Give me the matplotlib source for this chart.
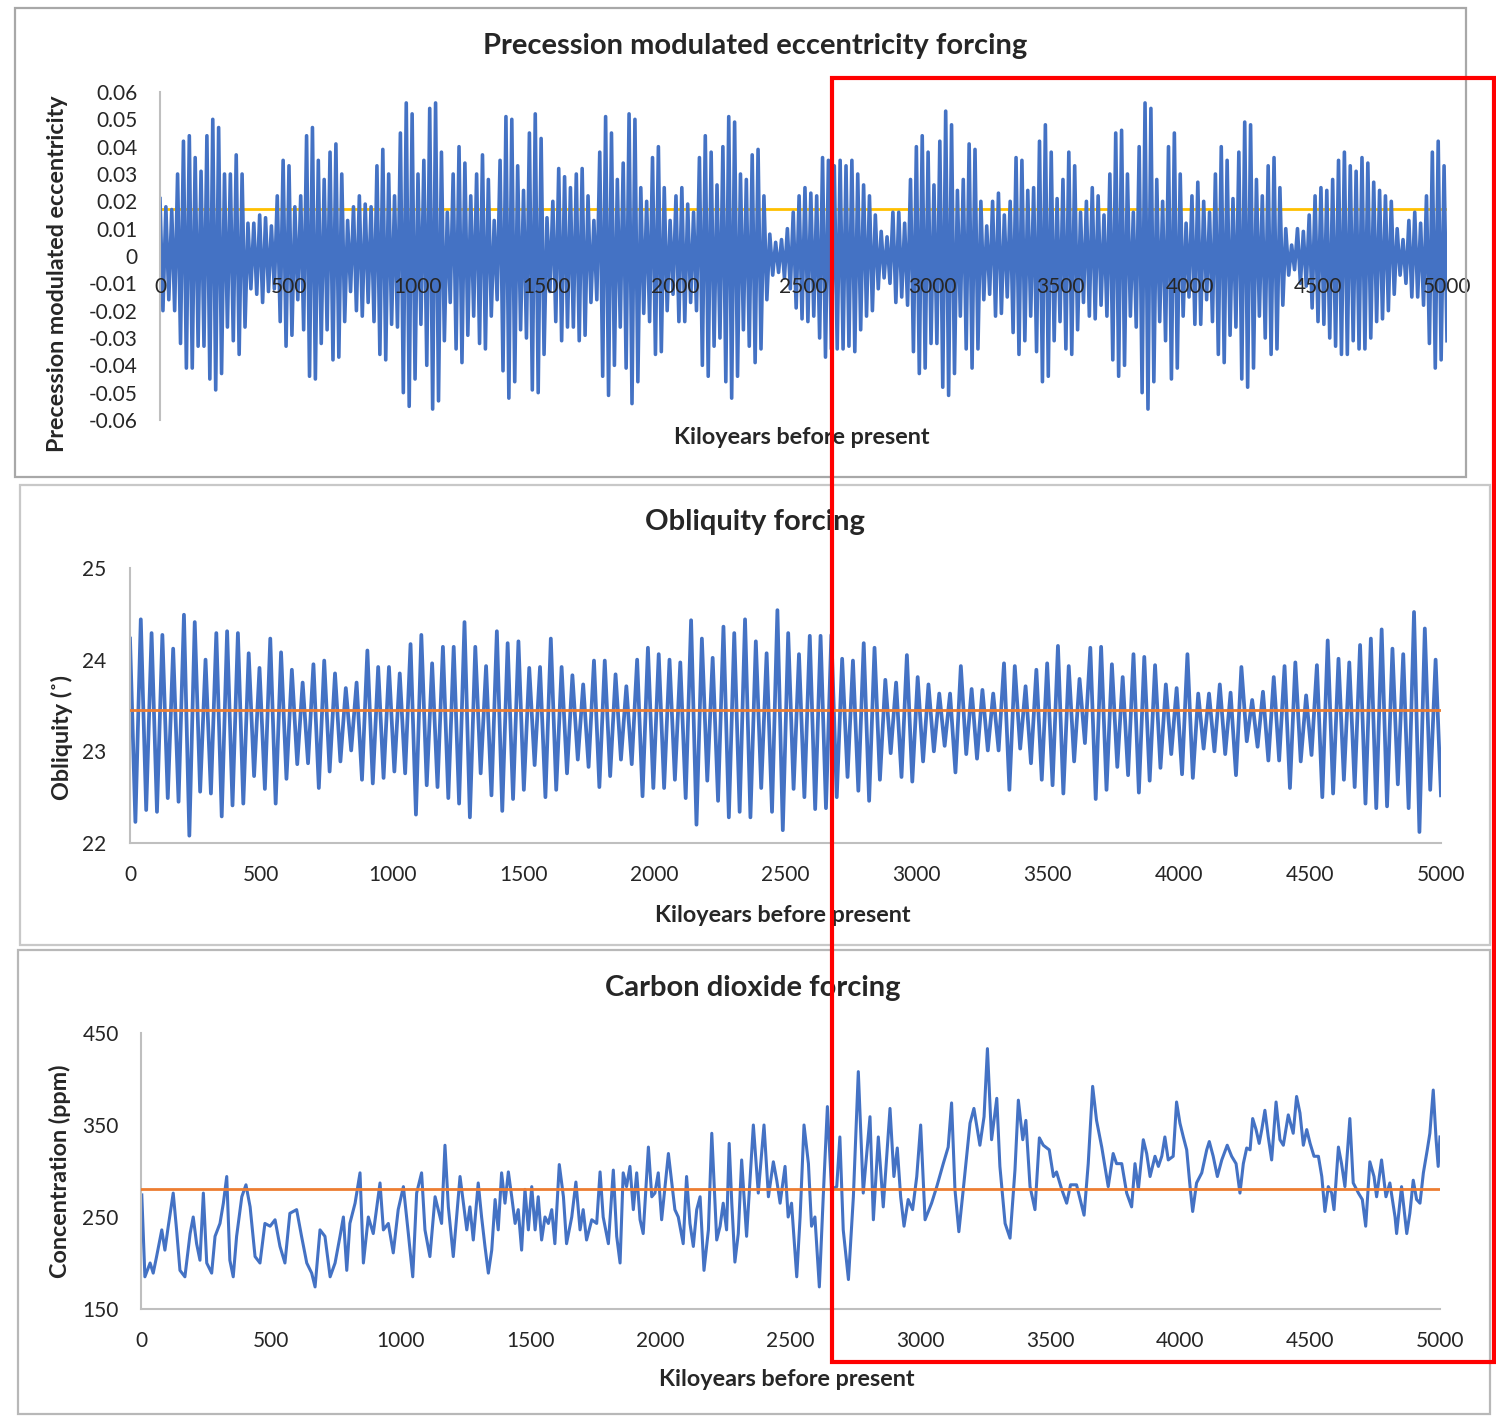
import numpy as np
import matplotlib
matplotlib.use('Agg')
import matplotlib.pyplot as plt
from matplotlib.patches import Rectangle

plt.rcParams['font.family'] = ['Lato', 'DejaVu Sans']

W, H = 1496, 1416

# ---- precession modulated eccentricity: peak and trough of each cycle
prec_max = [
    0.021, 0.018, 0.017, 0.030, 0.042, 0.044, 0.036, 0.031, 0.044, 0.050,
    0.047, 0.030, 0.030, 0.037, 0.030, 0.012, 0.012, 0.015, 0.014, 0.011,
    0.022, 0.035, 0.033, 0.018, 0.022, 0.044, 0.047, 0.035, 0.028, 0.038,
    0.041, 0.030, 0.013, 0.018, 0.022, 0.019, 0.018, 0.033, 0.039, 0.030,
    0.022, 0.045, 0.056, 0.052, 0.030, 0.035, 0.054, 0.056, 0.038, 0.016,
    0.030, 0.040, 0.034, 0.022, 0.030, 0.037, 0.028, 0.013, 0.035, 0.051,
    0.050, 0.033, 0.024, 0.045, 0.052, 0.043, 0.014, 0.020, 0.032, 0.029,
    0.025, 0.030, 0.032, 0.022, 0.013, 0.038, 0.051, 0.045, 0.028, 0.034,
    0.052, 0.050, 0.025, 0.020, 0.036, 0.040, 0.025, 0.013, 0.022, 0.025,
    0.019, 0.016, 0.036, 0.044, 0.038, 0.026, 0.040, 0.051, 0.049, 0.030,
    0.028, 0.037, 0.039, 0.022, 0.008, 0.005, 0.006, 0.010, 0.016, 0.022,
    0.025, 0.023, 0.022, 0.036, 0.035, 0.033, 0.035, 0.033, 0.035, 0.030,
    0.026, 0.022, 0.015, 0.009, 0.007, 0.016, 0.016, 0.012, 0.028, 0.040,
    0.044, 0.038, 0.026, 0.042, 0.053, 0.048, 0.024, 0.028, 0.041, 0.039,
    0.020, 0.011, 0.020, 0.023, 0.015, 0.020, 0.036, 0.035, 0.024, 0.025,
    0.042, 0.048, 0.038, 0.021, 0.028, 0.038, 0.033, 0.016, 0.020, 0.025,
    0.022, 0.015, 0.030, 0.045, 0.046, 0.030, 0.016, 0.040, 0.056, 0.054,
    0.028, 0.020, 0.040, 0.045, 0.030, 0.012, 0.022, 0.027, 0.020, 0.016,
    0.030, 0.040, 0.035, 0.021, 0.038, 0.049, 0.048, 0.028, 0.022, 0.033,
    0.036, 0.025, 0.010, 0.004, 0.010, 0.009, 0.015, 0.022, 0.025, 0.024,
    0.028, 0.035, 0.038, 0.033, 0.031, 0.036, 0.034, 0.027, 0.024, 0.022,
    0.020, 0.010, 0.006, 0.013, 0.016, 0.012, 0.022, 0.038, 0.042, 0.033,
]
prec_min = [
    -0.020, -0.016, -0.020, -0.032, -0.041, -0.041, -0.033, -0.033, -0.045, -0.049,
    -0.043, -0.026, -0.031, -0.036, -0.026, -0.012, -0.014, -0.017, -0.013, -0.012,
    -0.024, -0.033, -0.029, -0.016, -0.027, -0.044, -0.045, -0.032, -0.027, -0.038,
    -0.037, -0.024, -0.013, -0.020, -0.022, -0.017, -0.024, -0.036, -0.038, -0.025,
    -0.026, -0.050, -0.055, -0.045, -0.025, -0.040, -0.056, -0.053, -0.031, -0.017,
    -0.034, -0.039, -0.029, -0.022, -0.032, -0.034, -0.022, -0.016, -0.042, -0.052,
    -0.046, -0.027, -0.030, -0.049, -0.050, -0.036, -0.013, -0.024, -0.031, -0.026,
    -0.026, -0.031, -0.029, -0.017, -0.016, -0.044, -0.051, -0.040, -0.026, -0.041,
    -0.054, -0.046, -0.021, -0.024, -0.036, -0.035, -0.020, -0.014, -0.024, -0.024,
    -0.017, -0.020, -0.040, -0.044, -0.033, -0.030, -0.046, -0.052, -0.044, -0.027,
    -0.033, -0.039, -0.034, -0.016, -0.007, -0.006, -0.008, -0.012, -0.019, -0.023,
    -0.024, -0.022, -0.030, -0.037, -0.034, -0.034, -0.034, -0.033, -0.035, -0.027,
    -0.022, -0.020, -0.012, -0.008, -0.010, -0.017, -0.015, -0.018, -0.035, -0.043,
    -0.041, -0.032, -0.032, -0.048, -0.051, -0.043, -0.022, -0.034, -0.041, -0.034,
    -0.016, -0.014, -0.022, -0.021, -0.015, -0.028, -0.036, -0.031, -0.022, -0.035,
    -0.046, -0.044, -0.031, -0.024, -0.034, -0.036, -0.027, -0.017, -0.022, -0.023,
    -0.018, -0.022, -0.038, -0.044, -0.040, -0.022, -0.026, -0.050, -0.056, -0.046,
    -0.024, -0.031, -0.045, -0.041, -0.022, -0.015, -0.025, -0.025, -0.016, -0.024,
    -0.036, -0.039, -0.029, -0.026, -0.045, -0.048, -0.041, -0.022, -0.030, -0.036,
    -0.034, -0.018, -0.007, -0.005, -0.010, -0.011, -0.019, -0.024, -0.025, -0.030,
    -0.033, -0.036, -0.036, -0.031, -0.034, -0.034, -0.030, -0.024, -0.023, -0.020,
    -0.014, -0.007, -0.010, -0.015, -0.015, -0.018, -0.032, -0.041, -0.038, -0.031,
]
prec_ref = 0.0172

# ---- obliquity: successive maxima and minima (degrees)
obl_max = [
    24.23, 24.44, 24.29, 24.27, 24.12, 24.49, 24.41, 24.00, 24.29, 24.31,
    24.29, 24.07, 23.91, 24.23, 24.08, 23.89, 23.75, 23.95, 23.99, 23.85,
    23.69, 23.75, 24.10, 23.92, 23.92, 23.85, 24.17, 24.27, 23.96, 24.14,
    24.14, 24.41, 24.14, 23.93, 24.31, 24.18, 24.20, 23.91, 23.92, 24.23,
    23.92, 23.83, 23.73, 23.99, 23.99, 23.84, 23.71, 24.00, 24.13, 24.06,
    24.00, 23.97, 24.43, 24.23, 24.02, 24.36, 24.29, 24.44, 24.20, 24.07,
    24.54, 24.29, 24.06, 24.26, 24.26, 24.27, 24.01, 23.99, 24.18, 24.13,
    23.78, 23.75, 24.05, 23.81, 23.73, 23.63, 23.63, 23.93, 23.68, 23.67,
    23.63, 23.96, 23.93, 23.71, 23.89, 23.96, 24.15, 23.93, 23.79, 24.13,
    24.14, 23.95, 23.81, 24.06, 24.03, 23.94, 23.73, 23.69, 24.06, 23.63,
    23.63, 23.73, 23.64, 23.92, 23.56, 23.65, 23.81, 23.93, 23.97, 23.61,
    23.94, 24.21, 24.01, 23.97, 24.16, 24.23, 24.33, 24.12, 24.06, 24.52,
    24.34, 24.00,
]
obl_min = [
    22.23, 22.36, 22.34, 22.49, 22.45, 22.08, 22.56, 22.54, 22.29, 22.41,
    22.43, 22.73, 22.59, 22.43, 22.70, 22.86, 22.87, 22.60, 22.78, 22.89,
    23.01, 22.69, 22.65, 22.71, 22.78, 22.76, 22.31, 22.63, 22.61, 22.49,
    22.43, 22.28, 22.76, 22.52, 22.35, 22.48, 22.58, 22.85, 22.50, 22.58,
    22.76, 22.91, 22.83, 22.61, 22.73, 22.91, 22.86, 22.51, 22.60, 22.60,
    22.69, 22.49, 22.20, 22.68, 22.46, 22.28, 22.34, 22.28, 22.60, 22.34,
    22.14, 22.59, 22.50, 22.37, 22.38, 22.50, 22.72, 22.57, 22.46, 22.69,
    22.98, 22.72, 22.67, 22.89, 23.00, 23.06, 22.77, 22.97, 22.92, 23.01,
    23.01, 22.58, 23.03, 22.87, 22.69, 22.63, 22.54, 22.89, 23.09, 22.48,
    22.58, 22.83, 22.74, 22.55, 22.68, 22.82, 22.97, 22.75, 22.71, 23.03,
    23.00, 22.97, 22.74, 23.11, 23.05, 22.90, 22.90, 22.60, 22.89, 22.96,
    22.50, 22.54, 22.69, 22.61, 22.43, 22.38, 22.40, 22.64, 22.38, 22.12,
    22.58, 22.52,
]
obl_ref = 23.45

# ---- carbon dioxide (kyr before present, ppm)
co2_kyr = [
    3, 15, 35, 47, 60, 80, 92, 105, 124, 137, 150, 169, 189, 201, 214, 227, 240, 253, 272, 285,
    304, 317, 330, 342, 355, 368, 388, 404, 420, 439, 458, 477, 497, 516, 535, 554, 573, 599, 618, 638,
    657, 670, 689, 708, 728, 747, 766, 779, 792, 804, 824, 843, 856, 875, 894, 920, 933, 952, 971, 990,
    1010, 1029, 1046, 1061, 1080, 1093, 1112, 1132, 1157, 1170, 1183, 1202,
    1228, 1241, 1254, 1266, 1279, 1298, 1311, 1324, 1337, 1350, 1363, 1375, 1388, 1401, 1414, 1427,
    1440, 1452, 1465, 1478, 1491, 1504, 1517, 1529, 1542, 1555, 1568, 1581, 1593, 1610, 1626, 1638,
    1658, 1674, 1690, 1702, 1715, 1735, 1754, 1767, 1779, 1799, 1818, 1831, 1844, 1856, 1869, 1882,
    1895, 1908, 1921, 1933, 1953, 1966, 1978, 1991, 2004, 2030, 2043, 2055, 2068, 2087, 2100, 2113,
    2126, 2139, 2152, 2167, 2184, 2197, 2216, 2229, 2241, 2254, 2264, 2274, 2286, 2299, 2312, 2331,
    2357, 2376, 2398, 2415, 2434, 2447,
    2460, 2479, 2491, 2504, 2524, 2537, 2552, 2569, 2581, 2594, 2611, 2626, 2642, 2658, 2678, 2690,
    2703, 2723, 2742, 2761, 2780, 2806, 2819, 2838, 2857, 2883, 2898, 2911, 2924, 2937, 2953, 2970,
    2986, 3001, 3018, 3043, 3063, 3088, 3107, 3120, 3133, 3148, 3165, 3191, 3206, 3229, 3245, 3258,
    3274, 3294, 3306, 3326, 3345, 3364, 3377, 3394, 3406, 3422, 3441, 3458, 3473, 3496, 3512, 3524,
    3544, 3563, 3578, 3601, 3630, 3646, 3663, 3678, 3698, 3723,
    3742, 3755, 3775, 3794, 3813, 3826, 3839, 3858, 3871, 3884, 3903, 3916, 3929, 3941, 3954, 3973,
    3986, 3999, 4012, 4025, 4038, 4048, 4063, 4083, 4102, 4112, 4127, 4143, 4160, 4181, 4198, 4215,
    4230, 4243, 4256, 4269, 4279, 4292, 4304, 4314, 4326, 4339, 4352, 4369, 4384, 4397, 4416, 4435,
    4448, 4461, 4474, 4487, 4500, 4515, 4532, 4545, 4557, 4570, 4583, 4592, 4609, 4621, 4634, 4653,
    4666, 4686, 4701, 4714, 4730, 4746, 4756, 4775, 4792, 4807, 4827, 4833, 4852, 4872, 4884, 4897,
    4910, 4923, 4936, 4951, 4961, 4974, 4985, 4993, 5000,
]
co2_ppm = [
    274, 185, 200, 189, 207, 236, 214, 240, 276, 236, 192, 185, 232, 250, 221, 203, 276, 200, 189, 229,
    243, 265, 294, 203, 185, 229, 272, 285, 261, 207, 200, 243, 240, 247, 218, 200, 254, 258, 229, 200,
    189, 174, 236, 229, 185, 200, 229, 250, 192, 243, 265, 298, 200, 250, 232, 287, 236, 243, 211, 258,
    283, 232, 185, 276, 298, 236, 207, 272, 243, 328, 261, 207,
    294, 265, 236, 261, 225, 287, 250, 218, 189, 214, 269, 236, 298, 265, 299, 272,
    243, 258, 214, 280, 236, 283, 236, 272, 225, 250, 243, 258, 221, 307, 272, 221,
    250, 288, 236, 258, 225, 247, 243, 299, 250, 221, 301, 229, 200, 298, 283, 305,
    258, 298, 247, 232, 326, 272, 276, 298, 247, 319, 287, 258, 250, 221, 294, 243,
    218, 258, 272, 192, 236, 341, 225, 240, 265, 236, 330, 265, 201, 232, 312, 229,
    350, 276, 350, 272, 310, 290,
    265, 305, 250, 265, 185, 250, 350, 308, 240, 250, 174, 272, 370, 280, 283, 337,
    236, 182, 272, 408, 276, 359, 247, 337, 261, 368, 294, 325, 272, 240, 269, 258,
    294, 350, 247, 265, 283, 308, 326, 374, 280, 234, 280, 352, 368, 328, 359, 433,
    334, 379, 305, 243, 227, 301, 377, 334, 355, 283, 258, 336, 328, 323, 294, 299,
    280, 265, 285, 285, 252, 308, 392, 355, 326, 283,
    319, 308, 308, 276, 261, 308, 280, 334, 319, 294, 316, 305, 316, 337, 312, 316,
    375, 352, 337, 323, 283, 256, 287, 298, 323, 332, 316, 294, 312, 328, 316, 308,
    276, 308, 325, 323, 357, 345, 330, 345, 366, 337, 312, 375, 334, 328, 361, 341,
    381, 363, 328, 345, 330, 316, 316, 294, 256, 283, 276, 258, 326, 308, 283, 357,
    287, 276, 269, 240, 310, 294, 272, 312, 272, 287, 250, 232, 283, 232, 254, 290,
    269, 265, 298, 323, 341, 388, 334, 305, 337,
]
co2_ref = 280

kyr_ticks = [0, 500, 1000, 1500, 2000, 2500, 3000, 3500, 4000, 4500, 5000]
prec_ticks = [0.06, 0.05, 0.04, 0.03, 0.02, 0.01, 0, -0.01, -0.02, -0.03, -0.04, -0.05, -0.06]
prec_ticklabels = ['0.06', '0.05', '0.04', '0.03', '0.02', '0.01', '0',
                   '-0.01', '-0.02', '-0.03', '-0.04', '-0.05', '-0.06']
obl_ticks = [22, 23, 24, 25]
co2_ticks = [150, 250, 350, 450]

blue = '#4472C4'
axis_grey = '#BFBFBF'
txt = '#262626'


def rect(x0, y0, x1, y1):
    # pixel box (top-left origin) -> figure fraction [l, b, w, h]
    return [x0 / W, 1 - y1 / H, (x1 - x0) / W, (y1 - y0) / H]


def ftext(x, y, s, **kw):
    fig.text(x / W, 1 - y / H, s, ha='center', va='center', color=txt, **kw)


def style(ax, xpad, ypad):
    for s in ['top', 'right']:
        ax.spines[s].set_visible(False)
    for s in ['left', 'bottom']:
        ax.spines[s].set_color(axis_grey)
        ax.spines[s].set_linewidth(1.5)
    ax.tick_params(axis='both', length=0, labelsize=15, labelcolor=txt)
    ax.tick_params(axis='x', pad=xpad)
    ax.tick_params(axis='y', pad=ypad)
    ax.set_xlim(0, 5000)
    ax.set_xticks(kyr_ticks)
    ax.set_xticklabels([str(t) for t in kyr_ticks])
    ax.patch.set_alpha(0)


fig = plt.figure(figsize=(W / 100, H / 100), dpi=100)

# panel frames
for (x0, y0, x1, y1, c) in [(15, 8, 1466, 477, '#A8A8A8'),
                            (20, 485, 1490, 945, '#C8C8C8'),
                            (18, 950, 1490, 1414, '#B8B8B8')]:
    fig.patches.append(Rectangle((x0 / W, 1 - y1 / H), (x1 - x0) / W, (y1 - y0) / H,
                                 transform=fig.transFigure, fill=False,
                                 edgecolor=c, linewidth=1.6))

# ---- top panel
ax1 = fig.add_axes(rect(160, 92, 1447, 420))
prec = np.empty(len(prec_max) * 2)
prec[0::2] = prec_max
prec[1::2] = prec_min
prec_x = np.linspace(0, 5000, len(prec))
ax1.plot([0, 5000], [prec_ref, prec_ref], color='#FFC000', lw=2.0, zorder=1.2)
ax1.plot(prec_x, prec, color=blue, lw=2.6, zorder=2)
style(ax1, 15, 16)
ax1.set_axisbelow(False)  # x tick labels sit on top of the trace, as in Excel
ax1.set_ylim(-0.06, 0.06)
ax1.set_yticks(prec_ticks)
ax1.set_yticklabels(prec_ticklabels)
ax1.spines['bottom'].set_position(('data', 0))
ax1.spines['bottom'].set_color('none')

ftext(755, 46, 'Precession modulated eccentricity forcing', fontsize=21, fontweight='bold')
ftext(802, 437, 'Kiloyears before present', fontsize=16.8, fontweight='bold')
ftext(58, 274, 'Precession modulated eccentricity', fontsize=16.8, fontweight='bold', rotation=90)

# ---- middle panel
ax2 = fig.add_axes(rect(130, 568, 1441, 843))
obl = np.empty(len(obl_max) * 2)
obl[0::2] = obl_max
obl[1::2] = obl_min
obl_x = np.linspace(0, 5000, len(obl))
ax2.plot(obl_x, obl, color=blue, lw=2.7, zorder=2, solid_joinstyle='round')
ax2.plot([0, 5000], [obl_ref, obl_ref], color='#ED7D31', lw=2.0, zorder=3)
style(ax2, 16, 17)
ax2.set_ylim(22, 25)
ax2.set_yticks(obl_ticks)

ftext(755, 522, 'Obliquity forcing', fontsize=21, fontweight='bold')
ftext(783, 916, 'Kiloyears before present', fontsize=16.8, fontweight='bold')
ftext(62, 737, 'Obliquity (\u02da)', fontsize=16.8, fontweight='bold', rotation=90)

# ---- bottom panel
ax3 = fig.add_axes(rect(141, 1033, 1440, 1309))
ax3.plot(co2_kyr, co2_ppm, color=blue, lw=2.2, zorder=2, solid_joinstyle='round')
ax3.plot([0, 5000], [co2_ref, co2_ref], color='#ED7D31', lw=2.0, zorder=3)
style(ax3, 16, 16)
ax3.set_ylim(150, 450)
ax3.set_yticks(co2_ticks)

ftext(753, 988, 'Carbon dioxide forcing', fontsize=21, fontweight='bold')
ftext(787, 1380, 'Kiloyears before present', fontsize=16.8, fontweight='bold')
ftext(60, 1171, 'Concentration (ppm)', fontsize=16.8, fontweight='bold', rotation=90)

# red highlight box
fig.patches.append(Rectangle((832 / W, 1 - 1362 / H), (1494 - 832) / W, (1362 - 78) / H,
                             transform=fig.transFigure, fill=False,
                             edgecolor='#FF0000', linewidth=3.0, zorder=10))

fig.savefig('out.png', dpi=100)
